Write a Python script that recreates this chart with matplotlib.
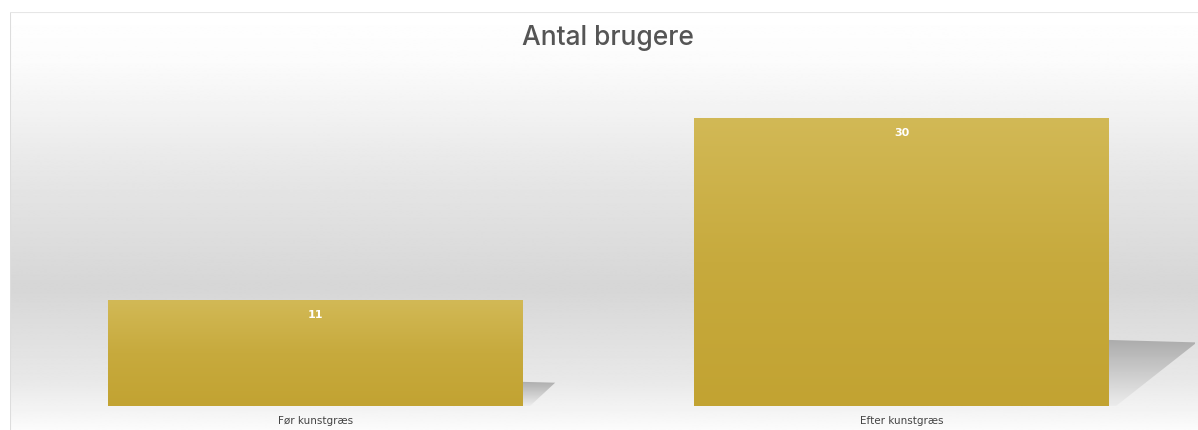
import numpy as np
import matplotlib.pyplot as plt
from matplotlib.patches import Polygon, Rectangle
from matplotlib.colors import LinearSegmentedColormap

categories = ['Før kunstgræs', 'Efter kunstgræs']
values = [11, 30]
title = 'Antal brugere'

W, H = 1198, 430
fig = plt.figure(figsize=(W / 100, H / 100), dpi=100)
fig.patch.set_facecolor('white')

# background panel with vertical grey gradient
bg = fig.add_axes([10 / W, 0, 1 - 10 / W, 1 - 12 / H])
bg.set_axis_off()
ys = np.linspace(0, 1, 400)  # 0 = top of panel
stops_y = [0.0, 0.12, 0.40, 0.66, 0.88, 1.0]
stops_v = [1.0, 0.985, 0.90, 0.84, 0.91, 0.985]
col = np.interp(ys, stops_y, stops_v)
bg.imshow(np.tile(col[:, None], (1, 2)), cmap='gray', vmin=0, vmax=1,
          aspect='auto', extent=[0, 1, 0, 1], interpolation='bilinear')
bg.set_xlim(0, 1)
bg.set_ylim(0, 1)
bg.add_line(plt.Line2D([0, 0], [0, 1], color='#dddddd', lw=1.5))
bg.add_line(plt.Line2D([0, 1], [1, 1], color='#e6e6e6', lw=1.5))

# main axes
left, right = 22.5, 1194.5
bottom, top = 430 - 406, 430 - 60
ax = fig.add_axes([left / W, bottom / H, (right - left) / W, (top - bottom) / H])
ax.set_facecolor('none')
ymax = 30 * (top - bottom) / 288
ax.set_xlim(-0.5, 1.5)
ax.set_ylim(0, ymax)
for s in ax.spines.values():
    s.set_visible(False)
ax.set_yticks([])
ax.tick_params(axis='x', length=0, pad=7)

bar_w = 0.708
x = np.arange(len(categories))

# drop shadows to the right of each bar, sized from the bar height
shade = LinearSegmentedColormap.from_list('shade', ['#a6a6a6', '#ececec'])
for xi, v in zip(x, values):
    x0 = xi + bar_w / 2
    h = 0.23 * v
    dx = 0.005 * v
    shadow = Polygon([[x0 - 0.01, 0], [x0 - 0.01, h], [x0 + dx, h * 0.96],
                      [x0 + 0.012, 0]], closed=True, transform=ax.transData)
    g = np.linspace(0, 1, 64)[:, None]
    im = ax.imshow(g, cmap=shade, aspect='auto', origin='upper',
                   extent=[x0 - 0.01, x0 + dx, 0, h], zorder=1, alpha=0.9)
    im.set_clip_path(shadow)

bars = ax.bar(x, values, width=bar_w, color='none', edgecolor='none', zorder=2)

gold = LinearSegmentedColormap.from_list('gold', ['#c2a332', '#c7aa3d', '#d2b956'])
for b, v in zip(bars, values):
    bx, bw = b.get_x(), b.get_width()
    grad = np.linspace(0, 1, 256)[:, None]
    im = ax.imshow(grad, cmap=gold, aspect='auto', origin='lower',
                   extent=[bx, bx + bw, 0, v], zorder=3, interpolation='bilinear')
    clip = Rectangle((bx, 0), bw, v, transform=ax.transData)
    im.set_clip_path(clip)
    ax.text(b.get_x() + bw / 2, v - 1.0, str(v), ha='center', va='top',
            color='white', fontsize=8, fontweight='bold', zorder=4)

ax.set_xlim(-0.5, 1.5)
ax.set_ylim(0, ymax)
ax.set_xticks(x)
ax.set_xticklabels(categories, fontsize=7.5, color='#444444')

fig.text(608 / W, 1 - 38 / H, title, ha='center', va='center',
         fontsize=19, color='#555555', family='Inter', fontweight='medium')

fig.savefig('out.png', dpi=100)
